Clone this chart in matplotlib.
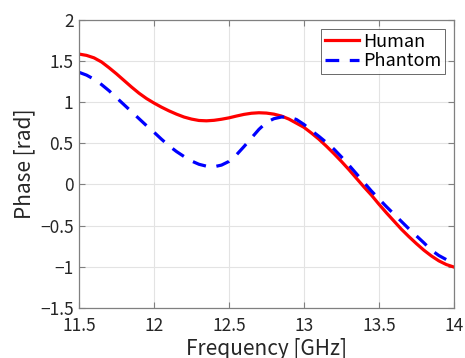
import numpy as np
import matplotlib
matplotlib.use("Agg")
import matplotlib.pyplot as plt

plt.rcParams['font.family'] = ['Noto Sans CJK JP', 'DejaVu Sans']

# values, every 0.05 GHz
freq = [11.50, 11.55, 11.60, 11.65, 11.70, 11.75, 11.80, 11.85, 11.90, 11.95,
        12.00, 12.05, 12.10, 12.15, 12.20, 12.25, 12.30, 12.35, 12.40, 12.45,
        12.50, 12.55, 12.60, 12.65, 12.70, 12.75, 12.80, 12.85, 12.90, 12.95,
        13.00, 13.05, 13.10, 13.15, 13.20, 13.25, 13.30, 13.35, 13.40, 13.45,
        13.50, 13.55, 13.60, 13.65, 13.70, 13.75, 13.80, 13.85, 13.90, 13.95, 14.00]
human = [1.586, 1.57, 1.54, 1.49, 1.42, 1.345, 1.265, 1.185, 1.11, 1.045,
         0.99, 0.94, 0.895, 0.855, 0.82, 0.795, 0.778, 0.774, 0.78, 0.793,
         0.81, 0.832, 0.852, 0.866, 0.872, 0.868, 0.855, 0.832, 0.795, 0.745,
         0.695, 0.625, 0.55, 0.465, 0.375, 0.28, 0.18, 0.075, -0.03, -0.13,
         -0.24, -0.345, -0.445, -0.545, -0.635, -0.72, -0.80, -0.87, -0.93, -0.975, -1.005]
phantom = [1.364, 1.33, 1.28, 1.215, 1.14, 1.055, 0.97, 0.885, 0.80, 0.715,
           0.635, 0.55, 0.47, 0.40, 0.34, 0.285, 0.245, 0.222, 0.215, 0.235,
           0.28, 0.36, 0.46, 0.565, 0.67, 0.755, 0.80, 0.82, 0.82, 0.79,
           0.73, 0.655, 0.585, 0.51, 0.43, 0.335, 0.235, 0.13, 0.025, -0.08,
           -0.175, -0.27, -0.36, -0.45, -0.54, -0.625, -0.71, -0.80, -0.865, -0.915, -0.95]

xticks = [11.5, 12, 12.5, 13, 13.5, 14]
xticklabels = ['11.5', '12', '12.5', '13', '13.5', '14']
yticks = [-1.5, -1, -0.5, 0, 0.5, 1, 1.5, 2]
yticklabels = ['\u22121.5', '\u22121', '\u22120.5', '0', '0.5', '1', '1.5', '2']

fig = plt.figure(figsize=(4.65, 3.58), dpi=100)
ax = fig.add_axes([0.170, 0.1405, 0.806, 0.8035])

ax.plot(freq, human, color='#ff0000', linewidth=2.3, label='Human')
ax.plot(freq, phantom, color='#0000ff', linewidth=2.3, linestyle=(0, (4.3, 3.3)), label='Phantom')

ax.set_xlim(11.5, 14)
ax.set_ylim(-1.5, 2)
ax.set_xticks(xticks)
ax.set_xticklabels(xticklabels)
ax.set_yticks(yticks)
ax.set_yticklabels(yticklabels)
ax.grid(True, color='#e3e3e3', linewidth=0.8)
ax.set_axisbelow(True)
ax.tick_params(direction='in', top=True, right=True, labelsize=12.5, colors='#808080',
               labelcolor='#262626', length=4)
ax.tick_params(axis='x', pad=7)
ax.tick_params(axis='y', pad=4)
for s in ax.spines.values():
    s.set_color('#808080')
    s.set_linewidth(0.9)

ax.set_xlabel('Frequency [GHz]', fontsize=15, color='#262626', labelpad=2)
ax.set_ylabel('Phase [rad]', fontsize=15, color='#262626', labelpad=3)

leg = ax.legend(loc='upper right', fontsize=13, frameon=True, fancybox=False,
                edgecolor='#262626', handlelength=1.9, handletextpad=0.2,
                borderpad=0.2, labelspacing=0.1, borderaxespad=0.5)
leg.get_frame().set_linewidth(0.6)

fig.savefig('out.png', dpi=100)
